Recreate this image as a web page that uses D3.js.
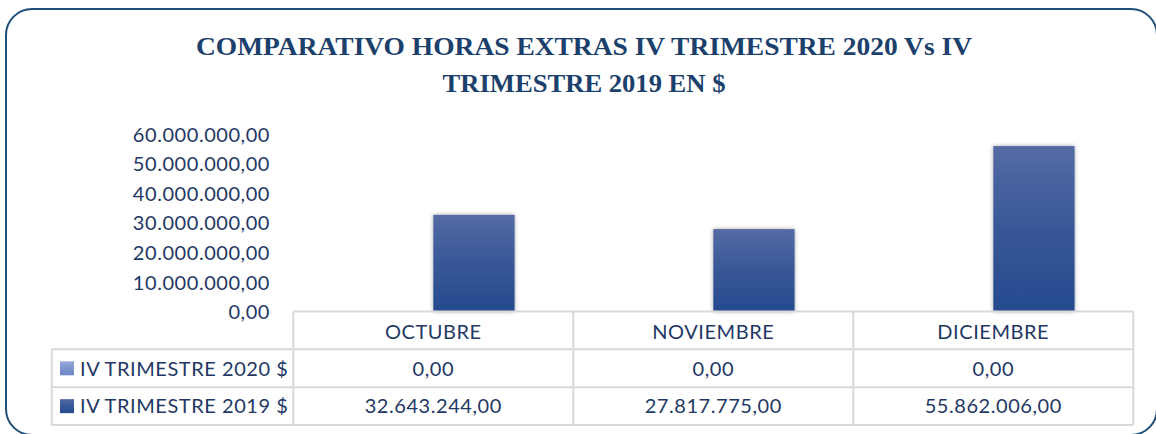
<!DOCTYPE html>
<html><head><meta charset="utf-8">
<script src="https://cdn.jsdelivr.net/npm/d3@7"></script>
<style>
html,body{margin:0;padding:0;background:#fff;}
svg{display:block;}
text{font-family:Lato, "Open Sans", sans-serif;}
</style></head>
<body>
<svg id="chart" width="1156" height="434"></svg>
<script>
const titleLines = ["COMPARATIVO HORAS EXTRAS IV TRIMESTRE 2020 Vs IV", "TRIMESTRE 2019 EN $"];
const categories = ["OCTUBRE", "NOVIEMBRE", "DICIEMBRE"];
const seriesNames = ["IV TRIMESTRE 2020 $", "IV TRIMESTRE 2019 $"];
const values2020 = [0, 0, 0];
const values2019 = [32643244, 27817775, 55862006];
const yTicks = [0, 10000000, 20000000, 30000000, 40000000, 50000000, 60000000];

const loc = d3.formatLocale({decimal: ",", thousands: ".", grouping: [3], currency: ["$", ""]});
const fmt = loc.format(",.2f");

const svg = d3.select("#chart");
const navy = "#1f3864";
const defs = svg.append("defs");

function grad(id, c1, c2) {
  const g = defs.append("linearGradient").attr("id", id).attr("x1", 0).attr("y1", 0).attr("x2", 0).attr("y2", 1);
  g.append("stop").attr("offset", "0%").attr("stop-color", c1);
  g.append("stop").attr("offset", "50%").attr("stop-color", d3.interpolateRgb(c1, c2)(0.6));
  g.append("stop").attr("offset", "100%").attr("stop-color", c2);
}
grad("g2019", "#556ba4", "#254a8e");
grad("g2020", "#98aadb", "#6d85c5");
const f = defs.append("filter").attr("id", "shadow").attr("x", "-20%").attr("y", "-20%").attr("width", "140%").attr("height", "140%");
f.append("feDropShadow").attr("dx", 0).attr("dy", 0).attr("stdDeviation", 2.2).attr("flood-color", "#000").attr("flood-opacity", 0.35);

// outer rounded border
svg.append("rect").attr("x", 6).attr("y", 9).attr("width", 1151).attr("height", 426)
  .attr("rx", 26).attr("ry", 26).attr("fill", "none").attr("stroke", "#1f4e79").attr("stroke-width", 2);

// title
const tw = [776, 283];
svg.selectAll("text.title").data(titleLines).join("text").attr("class", "title")
  .attr("x", 584).attr("y", (d, i) => 55 + i * 37)
  .attr("text-anchor", "middle")
  .style("font-family", "'Liberation Serif', 'DejaVu Serif', serif")
  .style("font-weight", "bold").style("font-size", "25px").attr("fill", "#1c406c")
  .text(d => d)
  .attr("textLength", (d, i) => tw[i]).attr("lengthAdjust", "spacingAndGlyphs");

// scales
const x = d3.scaleBand().domain(categories).range([293.3, 1133.3]).padding(0);
const xs = d3.scaleBand().domain(seriesNames).range([0, x.bandwidth()]).paddingInner(0).paddingOuter(0.722);
const y = d3.scaleLinear().domain([0, 60000000]).range([311.5, 133.8]);

const txt = (g) => g.style("font-family", "Lato, sans-serif").style("font-size", "20px")
  .style("letter-spacing", "0.55px").attr("fill", navy).attr("dy", "0.36em");

// y axis
const yAxis = d3.axisLeft(y).tickValues(yTicks).tickSize(0).tickPadding(0).tickFormat(fmt);
const ga = svg.append("g").attr("transform", "translate(270,0)").call(yAxis);
ga.select(".domain").remove();
ga.selectAll("text").call(txt);

// bars
const seriesData = [values2020, values2019];
const fills = ["url(#g2020)", "url(#g2019)"];
seriesData.forEach((vals, si) => {
  svg.append("g").selectAll("rect").data(vals).join("rect")
    .attr("x", (d, i) => x(categories[i]) + xs(seriesNames[si]))
    .attr("width", xs.bandwidth())
    .attr("y", d => y(d))
    .attr("height", d => y(0) - y(d))
    .attr("fill", fills[si])
    .attr("filter", "url(#shadow)");
});

// data table
const lineColor = "#d9d9d9";
const rowY = [311.5, 349.3, 387.3, 425];
const tg = svg.append("g").attr("stroke", lineColor).attr("stroke-width", 2).attr("fill", "none");
const x0 = x.range()[0], x1 = x.range()[1], lx = 51.7;
tg.append("line").attr("x1", x0).attr("x2", x1).attr("y1", rowY[0]).attr("y2", rowY[0]);
rowY.slice(1).forEach(yy => tg.append("line").attr("x1", lx).attr("x2", x1).attr("y1", yy).attr("y2", yy));
tg.append("line").attr("x1", lx).attr("x2", lx).attr("y1", rowY[1]).attr("y2", rowY[3]);
categories.forEach(c => tg.append("line").attr("x1", x(c)).attr("x2", x(c)).attr("y1", rowY[0]).attr("y2", rowY[3]));
tg.append("line").attr("x1", x1).attr("x2", x1).attr("y1", rowY[0]).attr("y2", rowY[3]);

svg.append("g").selectAll("text").data(categories).join("text")
  .attr("x", d => x(d) + x.bandwidth() / 2).attr("y", (rowY[0] + rowY[1]) / 2 + 1)
  .attr("text-anchor", "middle").text(d => d).call(txt);

seriesData.forEach((vals, si) => {
  const cy = (rowY[si + 1] + rowY[si + 2]) / 2;
  svg.append("rect").attr("x", 60).attr("y", cy - 7).attr("width", 14).attr("height", 14).attr("fill", fills[si]);
  svg.append("text").attr("x", 80).attr("y", cy).text(seriesNames[si]).call(txt);
  svg.append("g").selectAll("text").data(vals).join("text")
    .attr("x", (d, i) => x(categories[i]) + x.bandwidth() / 2).attr("y", cy)
    .attr("text-anchor", "middle").text(d => fmt(d)).call(txt);
});
</script>
</body></html>
